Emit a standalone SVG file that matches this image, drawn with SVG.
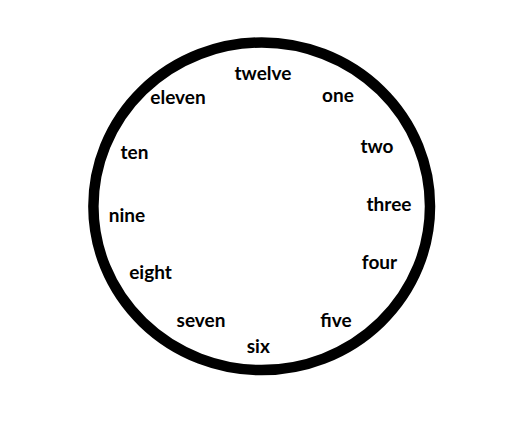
<svg xmlns="http://www.w3.org/2000/svg" width="520" height="433" viewBox="0 0 520 433">
<style>
.face{fill:#fff;stroke:#000;stroke-width:10.5}
.num{font-family:Lato,"Open Sans","Liberation Sans",sans-serif;font-weight:bold;font-size:19px;fill:#000;text-anchor:middle}
</style>
<rect width="520" height="433" fill="#fff"/>
<g id="clock-face"><ellipse class="face" cx="261.7" cy="206.3" rx="168.3" ry="163.8"/></g>
<g id="n12"><text class="num" x="263" y="80">twelve</text></g>
<g id="n1"><text class="num" x="338" y="101.7">one</text></g>
<g id="n2"><text class="num" x="377" y="152.7">two</text></g>
<g id="n3"><text class="num" x="389" y="211">three</text></g>
<g id="n4"><text class="num" x="379.5" y="269.3">four</text></g>
<g id="n5"><text class="num" x="336" y="327.3">five</text></g>
<g id="n6"><text class="num" x="258.3" y="352.7">six</text></g>
<g id="n7"><text class="num" x="201" y="327.3">seven</text></g>
<g id="n8"><text class="num" x="150.5" y="279.3">eight</text></g>
<g id="n9"><text class="num" x="127" y="221.7">nine</text></g>
<g id="n10"><text class="num" x="134.5" y="159.3">ten</text></g>
<g id="n11"><text class="num" x="178" y="104">eleven</text></g>
</svg>
